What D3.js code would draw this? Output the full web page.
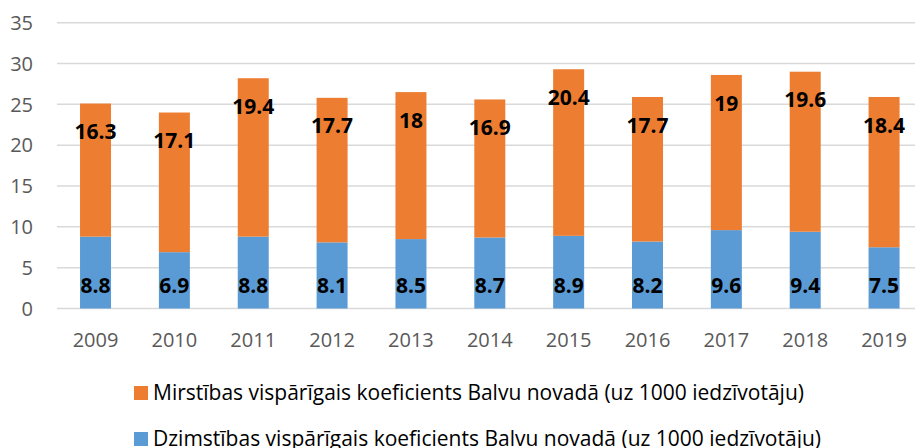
<!DOCTYPE html>
<html>
<head>
<meta charset="utf-8">
<script src="https://cdn.jsdelivr.net/npm/d3@7"></script>
<style>
	body { margin: 0; background: #fff; }
	text { font-family: "Open Sans", sans-serif; }
</style>
</head>
<body>
<div id="wrapper"></div>
<script>
// data
const years = ["2009", "2010", "2011", "2012", "2013", "2014", "2015", "2016", "2017", "2018", "2019"];
const birthRate = [8.8, 6.9, 8.8, 8.1, 8.5, 8.7, 8.9, 8.2, 9.6, 9.4, 7.5];   // Dzimstības
const deathRate = [16.3, 17.1, 19.4, 17.7, 18, 16.9, 20.4, 17.7, 19, 19.6, 18.4]; // Mirstības
const yTicks = [0, 5, 10, 15, 20, 25, 30, 35];
const seriesNames = [
	"Mirstības vispārīgais koeficients Balvu novadā (uz 1000 iedzīvotāju)",
	"Dzimstības vispārīgais koeficients Balvu novadā (uz 1000 iedzīvotāju)"
];

const width = 915;
const height = 448;
const orange = "#ED7D31";
const blue = "#5B9BD5";

const canvas = d3.select("#wrapper")
	.append("svg")
	.attr("width", width)
	.attr("height", height);

const xScale = d3.scaleBand()
	.domain(years)
	.range([56.1, 923.5])
	.paddingInner(0.607)
	.paddingOuter(0.3035);

const yScale = d3.scaleLinear()
	.domain([0, 35])
	.range([308.5, 22.7]);

// gridlines
canvas.selectAll(".grid")
	.data(yTicks)
	.enter().append("line")
	.attr("x1", 57)
	.attr("x2", width)
	.attr("y1", function(d){ return yScale(d); })
	.attr("y2", function(d){ return yScale(d); })
	.attr("stroke", "#D9D9D9")
	.attr("stroke-width", 1.5);

// y tick labels
canvas.selectAll(".ytick")
	.data(yTicks)
	.enter().append("text")
	.attr("x", 33)
	.attr("y", function(d){ return yScale(d); })
	.attr("dy", "0.36em")
	.attr("text-anchor", "end")
	.attr("font-size", 20)
	.attr("fill", "#595959")
	.text(function(d){ return d; });

// x tick labels
canvas.selectAll(".xtick")
	.data(years)
	.enter().append("text")
	.attr("x", function(d){ return xScale(d) + xScale.bandwidth() / 2; })
	.attr("y", 346.5)
	.attr("text-anchor", "middle")
	.attr("font-size", 20)
	.attr("fill", "#595959")
	.text(function(d){ return d; });

// blue bars (bottom)
canvas.selectAll(".blue")
	.data(years)
	.enter().append("rect")
	.attr("x", function(d){ return xScale(d); })
	.attr("width", xScale.bandwidth())
	.attr("y", function(d, i){ return yScale(birthRate[i]); })
	.attr("height", function(d, i){ return yScale(0) - yScale(birthRate[i]); })
	.attr("fill", blue);

// orange bars (stacked on top)
canvas.selectAll(".orange")
	.data(years)
	.enter().append("rect")
	.attr("x", function(d){ return xScale(d); })
	.attr("width", xScale.bandwidth())
	.attr("y", function(d, i){ return yScale(birthRate[i] + deathRate[i]); })
	.attr("height", function(d, i){ return yScale(birthRate[i]) - yScale(birthRate[i] + deathRate[i]); })
	.attr("fill", orange);

// value labels
canvas.selectAll(".blueLabel")
	.data(years)
	.enter().append("text")
	.attr("x", function(d){ return xScale(d) + xScale.bandwidth() / 2; })
	.attr("y", yScale(0) - 23.5)
	.attr("dy", "0.36em")
	.attr("text-anchor", "middle")
	.attr("font-size", 21)
	.attr("font-weight", "bold")
	.attr("fill", "#000")
	.text(function(d, i){ return birthRate[i]; });

canvas.selectAll(".orangeLabel")
	.data(years)
	.enter().append("text")
	.attr("x", function(d){ return xScale(d) + xScale.bandwidth() / 2; })
	.attr("y", function(d, i){ return yScale(birthRate[i] + deathRate[i]) + 28; })
	.attr("dy", "0.36em")
	.attr("text-anchor", "middle")
	.attr("font-size", 21)
	.attr("font-weight", "bold")
	.attr("fill", "#000")
	.text(function(d, i){ return deathRate[i]; });

// legend
const legendColors = [orange, blue];
const legend = canvas.selectAll(".legend")
	.data(seriesNames)
	.enter().append("g")
	.attr("transform", function(d, i){ return "translate(134," + (386 + i * 46) + ")"; });

legend.append("rect")
	.attr("width", 14)
	.attr("height", 14)
	.attr("fill", function(d, i){ return legendColors[i]; });

legend.append("text")
	.attr("x", 19)
	.attr("y", 14)
	.attr("font-size", 21)
	.attr("fill", "#000")
	.text(function(d){ return d; });
</script>
</body>
</html>
